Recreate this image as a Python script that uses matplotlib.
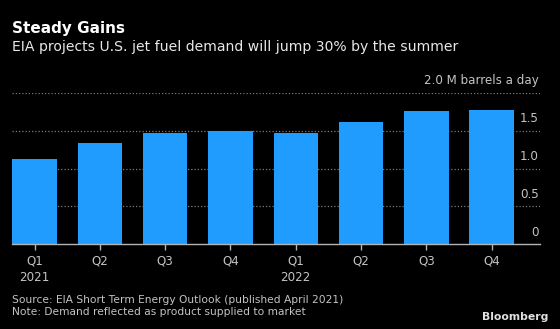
import matplotlib.pyplot as plt
import numpy as np

# Quarterly U.S. jet fuel demand, million barrels a day
quarters = ["Q1", "Q2", "Q3", "Q4", "Q1", "Q2", "Q3", "Q4"]
years = ["2021", "", "", "", "2022", "", "", ""]
demand = [1.12, 1.33, 1.465, 1.49, 1.465, 1.61, 1.755, 1.77]
y_ticks = [0, 0.5, 1.0, 1.5, 2.0]
y_labels = ["0", "0.5", "1.0", "1.5", "2.0 M barrels a day"]

BG = "#000000"
BAR = "#1f9cfd"
GRID = "#7a7a7a"
AXIS = "#b4b4b4"
TICK_TEXT = "#c4c4c4"
FONT = "DejaVu Sans"

W, H = 560, 329
fig = plt.figure(figsize=(W / 100, H / 100), dpi=100, facecolor=BG)
plt.rcParams["font.family"] = FONT

ax_left, ax_right, ax_top, ax_bottom = 12, 540, 92.7, 244.3
ax = fig.add_axes([
    ax_left / W,
    1 - ax_bottom / H,
    (ax_right - ax_left) / W,
    (ax_bottom - ax_top) / H,
])
ax.set_facecolor(BG)

x = np.arange(len(demand))
ax.bar(x, demand, width=0.68, color=BAR, zorder=3)
ax.set_xlim(-0.345, 7.74)
ax.set_ylim(0, 2.0)

for v in y_ticks[1:]:
    ax.axhline(v, color=GRID, lw=0.9, linestyle=(0, (1, 1.6)), zorder=1)

for v, lab in zip(y_ticks, y_labels):
    ax.annotate(lab, xy=(1, v), xycoords=("axes fraction", "data"),
                xytext=(-1, 4), textcoords="offset points",
                ha="right", va="bottom", color=TICK_TEXT, fontsize=8.6)

for name, s in ax.spines.items():
    s.set_visible(name == "bottom")
ax.spines["bottom"].set_color(AXIS)
ax.spines["bottom"].set_linewidth(1.0)
ax.spines["bottom"].set_zorder(5)
ax.set_yticks([])
ax.set_xticks(x)
ax.set_xticklabels([f"{q}\n{y}" if y else q for q, y in zip(quarters, years)],
                   color=TICK_TEXT, fontsize=8.6, linespacing=1.35)
ax.tick_params(axis="x", length=4, width=1.0, color=AXIS, pad=3)

fig.text(12 / W, 1 - 28 / H, "Steady Gains", color="white", fontsize=11,
         fontweight="bold", va="center", ha="left")
fig.text(12 / W, 1 - 47.5 / H,
         "EIA projects U.S. jet fuel demand will jump 30% by the summer",
         color="#e8e8e8", fontsize=10.1, va="center", ha="left")
fig.text(12 / W, 1 - 300 / H,
         "Source: EIA Short Term Energy Outlook (published April 2021)",
         color=TICK_TEXT, fontsize=7.7, va="center", ha="left")
fig.text(12 / W, 1 - 312 / H,
         "Note: Demand reflected as product supplied to market",
         color=TICK_TEXT, fontsize=7.7, va="center", ha="left")
fig.text(548 / W, 1 - 317.5 / H, "Bloomberg", color="#e0e0e0", fontsize=7.8,
         fontweight="bold", va="center", ha="right")

fig.savefig("out.png", dpi=100, facecolor=BG)
